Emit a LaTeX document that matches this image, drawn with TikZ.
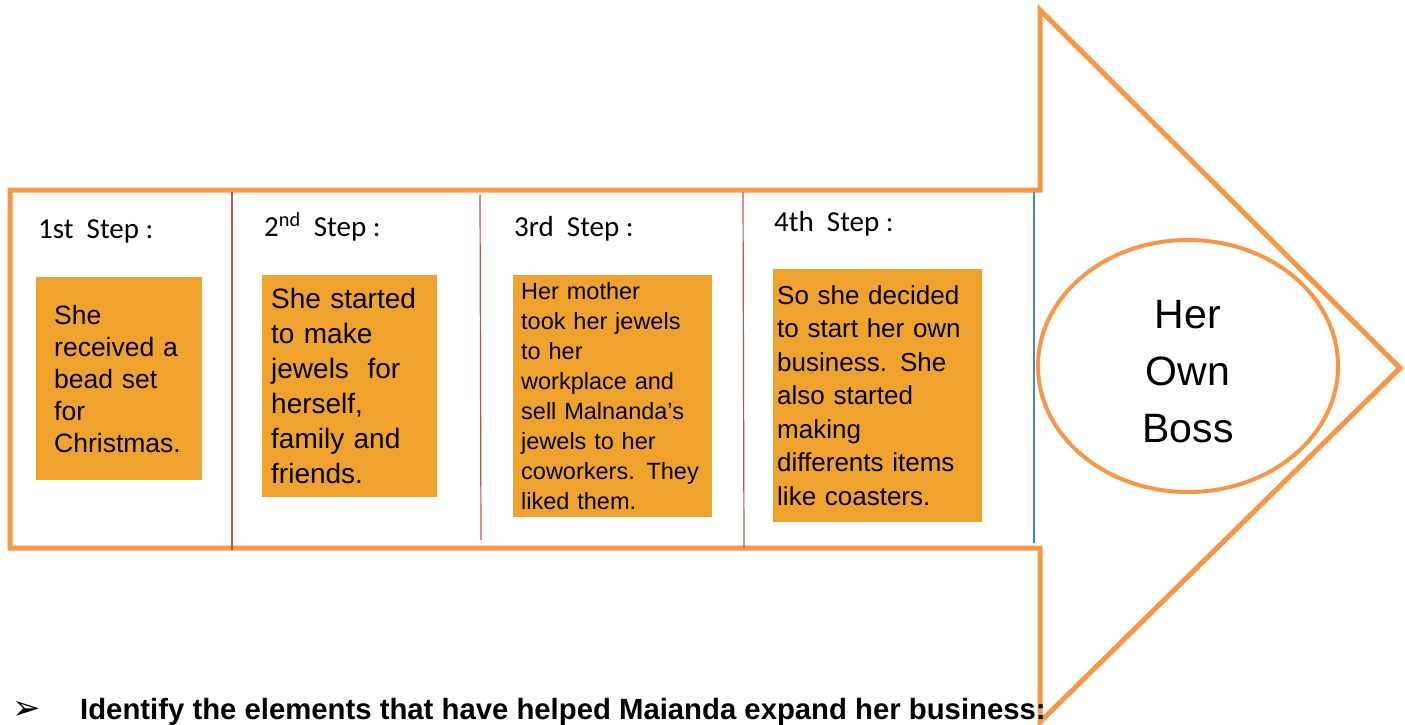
\documentclass[tikz,border=0pt]{standalone}
\usepackage{fontspec}
\setmainfont{Liberation Sans}
\newfontfamily\calib{Carlito}
\newfontfamily\dejavu{DejaVu Sans}
\definecolor{arroworange}{HTML}{F79646}
\definecolor{boxorange}{HTML}{F0A22E}
\definecolor{divred}{HTML}{C0504D}
\definecolor{divblue}{HTML}{4F81BD}
\tikzset{
  outline/.style={draw=arroworange, line width=5pt, line join=miter},
  divider/.style={draw=divred, line width=1.2pt},
  stephead/.style={anchor=base west, inner sep=0pt, font=\calib\fontsize{29}{32}\selectfont},
  stepbox/.style={fill=boxorange, anchor=north west, align=left, inner ysep=0pt},
}
\begin{document}
\begin{tikzpicture}[x=1pt,y=-1pt]
\useasboundingbox (0,0) rectangle (1405,725);
% big arrow
\draw[outline] (10,190) -- (1040,190) -- (1040,10) -- (1400,368) -- (1040,722) -- (1040,548) -- (10,548) -- cycle;
% dividers
\draw[divider] (232,192) -- (232,550);
\draw[divider] (480,195) -- (481,540);
\draw[divider] (743,192) -- (744,548);
\draw[draw=divblue, line width=1.2pt] (1034,192) -- (1034,543);
% headers
\node[stephead] (h1) at (38,238) {1st\ \ Step :};
\node[stephead] (h2) at (264,236) {2\textsuperscript{nd}\ \ Step :};
\node[stephead] (h3) at (514,236) {3rd\ \ Step :};
\node[stephead] (h4) at (774,231) {4th\ \ Step :};
% boxes
\node[stepbox, minimum width=166pt, minimum height=203pt, text width=130pt, inner xsep=18pt,
  font=\fontsize{26.5}{32}\selectfont] (b1) at (36,277)
  {She\\received a\\bead set\\for\\Christmas.};
\node[stepbox, minimum width=175pt, minimum height=222pt, text width=157pt, inner xsep=9pt,
  font=\fontsize{28}{35}\selectfont] (b2) at (262,275)
  {She started\\to make\\jewels\ \ for\\herself,\\family and\\friends.};
\node[stepbox, minimum width=199pt, minimum height=242pt, text width=183pt, inner xsep=8pt,
  font=\fontsize{23.5}{30}\selectfont] (b3) at (513,275)
  {Her mother\\took her jewels\\to her\\workplace and\\sell Malnanda’s\\jewels to her\\coworkers. They\\liked them.};
\node[stepbox, minimum width=209pt, minimum height=253pt, text width=201pt, inner xsep=4pt,
  font=\fontsize{26}{33.5}\selectfont] (b4) at (773,269)
  {So she decided\\to start her own\\business. She\\also started\\making\\differents items\\like coasters.};
% goal ellipse
\draw[arroworange, line width=4pt] (1188,366) ellipse [x radius=150, y radius=126];
\node[align=center, font=\fontsize{41}{57}\selectfont] (goal) at (1188,372) {Her\\Own\\Boss};
% bottom question
\node[anchor=base west, inner sep=0pt, font=\dejavu\fontsize{34}{36}\selectfont] (bullet) at (12,719) {➢};
\node[anchor=base west, inner sep=0pt, font=\bfseries\fontsize{29.3}{32}\selectfont] (question) at (80,719)
  {Identify the elements that have helped Maianda expand her business:};
\end{tikzpicture}
\end{document}
